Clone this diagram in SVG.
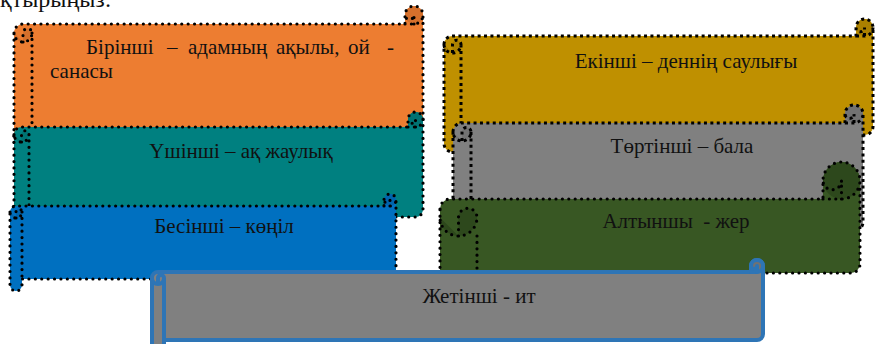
<svg xmlns="http://www.w3.org/2000/svg" width="876" height="344" viewBox="0 0 876 344">
<style>
.rd{fill:none;stroke:#000;stroke-width:3.2;stroke-dasharray:0 6.4;stroke-linecap:round;stroke-linejoin:round}
.sq{fill:none;stroke:#000;stroke-width:3;stroke-dasharray:3 3.4;stroke-linecap:butt}
.bl{stroke:#2E75B6;stroke-width:4;stroke-linejoin:round;stroke-linecap:round}
.t{font-family:"Liberation Serif","Times New Roman",serif;font-size:21px;fill:#111}
.c{text-anchor:middle}
</style>
<rect width="876" height="344" fill="#fff"/>
<text class="t" x="0" y="7" style="font-size:24px">қтырыңыз:</text>

<g id="node1">
<path fill="#ED7D31" d="M14,33 A9,9 0 0 1 23,24 L405,24 L405,15 A9,9 0 0 1 423,15 L423,123 A9,9 0 0 1 414,132 L32,132 L32,141 A9,9 0 0 1 14,141 Z"/>
<circle cx="414" cy="15" r="9" fill="#D5702C"/>
<path fill="#D5702C" d="M23,42 L23,33 A4.5,4.5 0 0 1 32,33 A9,9 0 0 1 14,33 Z"/>
<path class="rd" d="M14,33 A9,9 0 0 1 23,24 L405,24 L405,15 A9,9 0 0 1 423,15 L423,123 A9,9 0 0 1 414,132 L32,132 L32,141 A9,9 0 0 1 14,141 Z M405,24 L414,24 A9,9 0 0 0 423,15 M414,24 L414,15 A4.5,4.5 0 0 1 405,15 M23,42 L23,33 A4.5,4.5 0 0 1 32,33 A9,9 0 0 1 14,33 M32,33 L32,132"/>
<text class="t" y="54"><tspan x="86">Бірінші</tspan><tspan x="167">–</tspan><tspan x="188">адамның</tspan><tspan x="276">ақылы,</tspan><tspan x="348">ой</tspan><tspan x="387">-</tspan></text>
<text class="t" x="50" y="78">санасы</text>
</g>

<g id="node3">
<path fill="#008080" d="M14,134.5 A7.5,7.5 0 0 1 21.5,127 L408,127 L408,119.5 A7.5,7.5 0 0 1 423,119.5 L423,209.5 A7.5,7.5 0 0 1 415.5,217 L29,217 L29,224.5 A7.5,7.5 0 0 1 14,224.5 Z"/>
<circle cx="415.5" cy="119.5" r="7.5" fill="#007272"/>
<path fill="#007272" d="M21.5,142 L21.5,134.5 A3.75,3.75 0 0 1 29,134.5 A7.5,7.5 0 0 1 14,134.5 Z"/>
<path class="rd" d="M14,134.5 A7.5,7.5 0 0 1 21.5,127 L408,127 L408,119.5 A7.5,7.5 0 0 1 423,119.5 L423,209.5 A7.5,7.5 0 0 1 415.5,217 L29,217 L29,224.5 A7.5,7.5 0 0 1 14,224.5 Z M408,127 L415.5,127 A7.5,7.5 0 0 0 423,119.5 M415.5,127 L415.5,119.5 A3.75,3.75 0 0 1 408,119.5 M21.5,142 L21.5,134.5 A3.75,3.75 0 0 1 29,134.5 A7.5,7.5 0 0 1 14,134.5 M29,134.5 L29,217"/>
<text class="t c" x="241" y="158">Үшінші – ақ жаулық</text>
</g>

<g id="node5">
<path fill="#0070C0" d="M10,212 A6,6 0 0 1 16,206 L384,206 L384,200 A6,6 0 0 1 396,200 L396,273 A6,6 0 0 1 390,279 L22,279 L22,285 A6,6 0 0 1 10,285 Z"/>
<circle cx="390" cy="200" r="6" fill="#0064AC"/>
<path fill="#0064AC" d="M16,218 L16,212 A3,3 0 0 1 22,212 A6,6 0 0 1 10,212 Z"/>
<path class="rd" d="M10,212 A6,6 0 0 1 16,206 L384,206 L384,200 A6,6 0 0 1 396,200 L396,273 A6,6 0 0 1 390,279 L22,279 L22,285 A6,6 0 0 1 10,285 Z M384,206 L390,206 A6,6 0 0 0 396,200 M390,206 L390,200 A3,3 0 0 1 384,200 M16,218 L16,212 A3,3 0 0 1 22,212 A6,6 0 0 1 10,212 M22,212 L22,279"/>
<text class="t c" x="224" y="233">Бесінші – көңіл</text>
</g>

<g id="node2">
<path fill="#BF9000" d="M444,44.5 A8.5,8.5 0 0 1 452.5,36 L856,36 L856,27.5 A8.5,8.5 0 0 1 873,27.5 L873,126.5 A8.5,8.5 0 0 1 864.5,135 L461,135 L461,143.5 A8.5,8.5 0 0 1 444,143.5 Z"/>
<circle cx="864.5" cy="27.5" r="8.5" fill="#AA8000"/>
<path fill="#AA8000" d="M452.5,53 L452.5,44.5 A4.25,4.25 0 0 1 461,44.5 A8.5,8.5 0 0 1 444,44.5 Z"/>
<path class="sq" d="M444,44.5 A8.5,8.5 0 0 1 452.5,36 L856,36 L856,27.5 A8.5,8.5 0 0 1 873,27.5 L873,126.5 A8.5,8.5 0 0 1 864.5,135 L461,135 L461,143.5 A8.5,8.5 0 0 1 444,143.5 Z M856,36 L864.5,36 A8.5,8.5 0 0 0 873,27.5 M864.5,36 L864.5,27.5 A4.25,4.25 0 0 1 856,27.5 M452.5,53 L452.5,44.5 A4.25,4.25 0 0 1 461,44.5 A8.5,8.5 0 0 1 444,44.5 M461,44.5 L461,135"/>
<text class="t c" x="686" y="68">Екінші – деннің саулығы</text>
</g>

<g id="node4">
<path fill="#808080" d="M453,132 A9,9 0 0 1 462,123 L845,123 L845,114 A9,9 0 0 1 863,114 L863,222 A9,9 0 0 1 854,231 L471,231 L471,240 A9,9 0 0 1 453,240 Z"/>
<circle cx="854" cy="114" r="9" fill="#727272"/>
<path fill="#727272" d="M462,141 L462,132 A4.5,4.5 0 0 1 471,132 A9,9 0 0 1 453,132 Z"/>
<path class="sq" d="M453,132 A9,9 0 0 1 462,123 L845,123 L845,114 A9,9 0 0 1 863,114 L863,222 A9,9 0 0 1 854,231 L471,231 L471,240 A9,9 0 0 1 453,240 Z M845,123 L854,123 A9,9 0 0 0 863,114 M854,123 L854,114 A4.5,4.5 0 0 1 845,114 M462,141 L462,132 A4.5,4.5 0 0 1 471,132 A9,9 0 0 1 453,132 M471,132 L471,231"/>
<text class="t c" x="682" y="153">Төртінші – бала</text>
</g>

<g id="node6">
<path fill="#385723" d="M440,209 A10,10 0 0 1 450,199 L823,199 L823,180.5 A18.5,18.5 0 0 1 860,180.5 L860,264 A9,9 0 0 1 851,273 L477,273 L477,291.5 A18.5,18.5 0 0 1 440,291.5 Z"/>
<circle cx="841.5" cy="180.5" r="18.5" fill="#2D481C"/>
<path fill="#2D481C" d="M458.5,236 L458.5,217.5 A9.25,9.25 0 0 1 477,217.5 A18.5,18.5 0 0 1 440,217.5 Z"/>
<path class="rd" d="M440,209 A10,10 0 0 1 450,199 L823,199 L823,180.5 A18.5,18.5 0 0 1 860,180.5 L860,264 A9,9 0 0 1 851,273 L477,273 L477,291.5 A18.5,18.5 0 0 1 440,291.5 Z M823,199 L841.5,199 A18.5,18.5 0 0 0 860,180.5 M841.5,199 L841.5,180.5 A9.25,9.25 0 0 1 823,180.5 M458.5,236 L458.5,217.5 A9.25,9.25 0 0 1 477,217.5 A18.5,18.5 0 0 1 440,217.5 M477,236 L477,273"/>
<text class="t c" x="676" y="228" xml:space="preserve">Алтыншы  - жер</text>
</g>

<g id="node7">
<path class="bl" fill="#808080" d="M152,278 A6,6 0 0 1 158,272 L751,272 L751,266 A6,6 0 0 1 763,266 L763,334 A6,6 0 0 1 757,340 L164,340 L164,346 A6,6 0 0 1 152,346 Z"/>
<path class="bl" fill="#727272" d="M751,272 L757,272 A6,6 0 0 0 763,266 A6,6 0 0 0 751,266 Z"/>
<path class="bl" fill="none" d="M757,272 L757,266 A3,3 0 0 1 751,266 M158,284 L158,278 A3,3 0 0 1 164,278 A6,6 0 0 1 152,278 M164,278 L164,340"/>
<text class="t c" x="479" y="303">Жетінші - ит</text>
</g>

<g id="connectors"></g>
</svg>
